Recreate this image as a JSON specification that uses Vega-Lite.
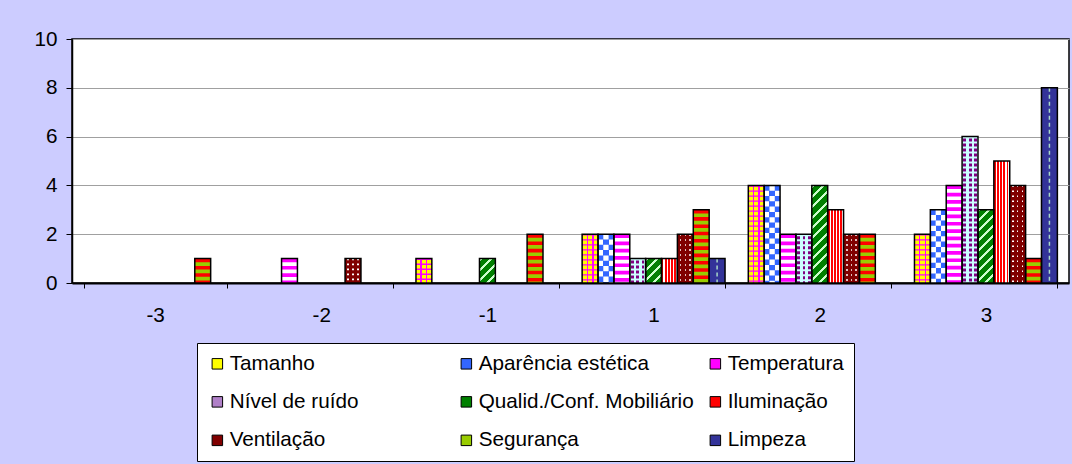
{
  "$schema": "https://vega.github.io/schema/vega-lite/v6.json",
  "width": 997,
  "height": 244,
  "autosize": "none",
  "padding": {"left": 72, "top": 39, "right": 3, "bottom": 181},
  "background": "#CCCCFF",
  "data": {"values": [
    {"cat": "-3", "series": "Segurança", "value": 1},
    {"cat": "-2", "series": "Temperatura", "value": 1},
    {"cat": "-2", "series": "Ventilação", "value": 1},
    {"cat": "-1", "series": "Tamanho", "value": 1},
    {"cat": "-1", "series": "Qualid./Conf. Mobiliário", "value": 1},
    {"cat": "-1", "series": "Segurança", "value": 2},
    {"cat": "1", "series": "Tamanho", "value": 2},
    {"cat": "1", "series": "Aparência estética", "value": 2},
    {"cat": "1", "series": "Temperatura", "value": 2},
    {"cat": "1", "series": "Nível de ruído", "value": 1},
    {"cat": "1", "series": "Qualid./Conf. Mobiliário", "value": 1},
    {"cat": "1", "series": "Iluminação", "value": 1},
    {"cat": "1", "series": "Ventilação", "value": 2},
    {"cat": "1", "series": "Segurança", "value": 3},
    {"cat": "1", "series": "Limpeza", "value": 1},
    {"cat": "2", "series": "Tamanho", "value": 4},
    {"cat": "2", "series": "Aparência estética", "value": 4},
    {"cat": "2", "series": "Temperatura", "value": 2},
    {"cat": "2", "series": "Nível de ruído", "value": 2},
    {"cat": "2", "series": "Qualid./Conf. Mobiliário", "value": 4},
    {"cat": "2", "series": "Iluminação", "value": 3},
    {"cat": "2", "series": "Ventilação", "value": 2},
    {"cat": "2", "series": "Segurança", "value": 2},
    {"cat": "3", "series": "Tamanho", "value": 2},
    {"cat": "3", "series": "Aparência estética", "value": 3},
    {"cat": "3", "series": "Temperatura", "value": 4},
    {"cat": "3", "series": "Nível de ruído", "value": 6},
    {"cat": "3", "series": "Qualid./Conf. Mobiliário", "value": 3},
    {"cat": "3", "series": "Iluminação", "value": 5},
    {"cat": "3", "series": "Ventilação", "value": 4},
    {"cat": "3", "series": "Segurança", "value": 1},
    {"cat": "3", "series": "Limpeza", "value": 8}
  ]},
  "encoding": {
    "x": {"field": "cat", "type": "nominal",
      "scale": {"domain": ["-3", "-2", "-1", "1", "2", "3"], "paddingInner": 0.14, "paddingOuter": 0.07},
      "axis": {"title": null, "tickBand": "extent", "labelAngle": 0, "domainColor": "#000000", "domainWidth": 2, "tickColor": "#000000", "tickSize": 5, "tickWidth": 1, "labelPadding": 17, "grid": false}},
    "xOffset": {"field": "series", "type": "nominal",
      "scale": {"domain": ["Tamanho", "Aparência estética", "Temperatura", "Nível de ruído", "Qualid./Conf. Mobiliário", "Iluminação", "Ventilação", "Segurança", "Limpeza"], "paddingInner": 0, "paddingOuter": 0}},
    "y": {"field": "value", "type": "quantitative",
      "scale": {"domain": [0, 10], "nice": false},
      "axis": {"title": null, "values": [0, 2, 4, 6, 8, 10], "grid": true, "gridColor": "#A0A0A0", "gridWidth": 1, "domainColor": "#000000", "domainWidth": 1.5, "tickColor": "#000000", "tickSize": 6, "tickWidth": 1, "labelPadding": 9}}
  },
  "layer": [
    {
      "mark": {"type": "bar", "strokeWidth": 0},
      "encoding": {
        "fill": {
          "condition": [
            {"test": "datum.series === 'Tamanho'", "value": {"gradient": "linear", "x1": 0, "y1": 0, "x2": 1, "y2": 0, "stops": [
              {"offset": 0, "color": "#FFFF00"}, {"offset": 0.28, "color": "#FFFF00"}, {"offset": 0.28, "color": "#FF00FF"}, {"offset": 0.36, "color": "#FF00FF"}, {"offset": 0.36, "color": "#FFFF00"}, {"offset": 0.64, "color": "#FFFF00"}, {"offset": 0.64, "color": "#FF00FF"}, {"offset": 0.72, "color": "#FF00FF"}, {"offset": 0.72, "color": "#FFFF00"}, {"offset": 1, "color": "#FFFF00"}]}},
            {"test": "datum.series === 'Aparência estética'", "value": {"gradient": "linear", "x1": 0, "y1": 0, "x2": 1, "y2": 0, "stops": [
              {"offset": 0, "color": "#FFFFFF"}, {"offset": 0.333, "color": "#FFFFFF"}, {"offset": 0.333, "color": "#3366FF"}, {"offset": 0.667, "color": "#3366FF"}, {"offset": 0.667, "color": "#FFFFFF"}, {"offset": 1, "color": "#FFFFFF"}]}},
            {"test": "datum.series === 'Temperatura'", "value": "#FFFFFF"},
            {"test": "datum.series === 'Nível de ruído'", "value": {"gradient": "linear", "x1": 0, "y1": 0, "x2": 1, "y2": 0, "stops": [
              {"offset": 0, "color": "#CCFFFF"}, {"offset": 0.08, "color": "#CCFFFF"}, {"offset": 0.08, "color": "#800080"}, {"offset": 0.27, "color": "#800080"}, {"offset": 0.27, "color": "#CCFFFF"}, {"offset": 0.42, "color": "#CCFFFF"}, {"offset": 0.42, "color": "#800080"}, {"offset": 0.6, "color": "#800080"}, {"offset": 0.6, "color": "#CCFFFF"}, {"offset": 0.74, "color": "#CCFFFF"}, {"offset": 0.74, "color": "#800080"}, {"offset": 0.92, "color": "#800080"}, {"offset": 0.92, "color": "#CCFFFF"}, {"offset": 1, "color": "#CCFFFF"}]}},
            {"test": "datum.series === 'Qualid./Conf. Mobiliário' && datum.value === 1", "value": {"gradient": "linear", "x1": 0, "y1": 0, "x2": 0.7539, "y2": 1.1599, "stops": [
              {"offset": 0, "color": "#CCFFCC"}, {"offset": 0.075, "color": "#CCFFCC"}, {"offset": 0.075, "color": "#008000"}, {"offset": 0.25, "color": "#008000"},
              {"offset": 0.25, "color": "#CCFFCC"}, {"offset": 0.325, "color": "#CCFFCC"}, {"offset": 0.325, "color": "#008000"}, {"offset": 0.5, "color": "#008000"},
              {"offset": 0.5, "color": "#CCFFCC"}, {"offset": 0.575, "color": "#CCFFCC"}, {"offset": 0.575, "color": "#008000"}, {"offset": 0.75, "color": "#008000"},
              {"offset": 0.75, "color": "#CCFFCC"}, {"offset": 0.825, "color": "#CCFFCC"}, {"offset": 0.825, "color": "#008000"}, {"offset": 1, "color": "#008000"}]}},
            {"test": "datum.series === 'Qualid./Conf. Mobiliário' && datum.value === 3", "value": {"gradient": "linear", "x1": 0, "y1": 0, "x2": 0.2518, "y2": 1.1621, "stops": [
              {"offset": 0, "color": "#CCFFCC"}, {"offset": 0.0333, "color": "#CCFFCC"}, {"offset": 0.0333, "color": "#008000"}, {"offset": 0.1111, "color": "#008000"},
              {"offset": 0.1111, "color": "#CCFFCC"}, {"offset": 0.1444, "color": "#CCFFCC"}, {"offset": 0.1444, "color": "#008000"}, {"offset": 0.2222, "color": "#008000"},
              {"offset": 0.2222, "color": "#CCFFCC"}, {"offset": 0.2556, "color": "#CCFFCC"}, {"offset": 0.2556, "color": "#008000"}, {"offset": 0.3333, "color": "#008000"},
              {"offset": 0.3333, "color": "#CCFFCC"}, {"offset": 0.3667, "color": "#CCFFCC"}, {"offset": 0.3667, "color": "#008000"}, {"offset": 0.4444, "color": "#008000"},
              {"offset": 0.4444, "color": "#CCFFCC"}, {"offset": 0.4778, "color": "#CCFFCC"}, {"offset": 0.4778, "color": "#008000"}, {"offset": 0.5556, "color": "#008000"},
              {"offset": 0.5556, "color": "#CCFFCC"}, {"offset": 0.5889, "color": "#CCFFCC"}, {"offset": 0.5889, "color": "#008000"}, {"offset": 0.6667, "color": "#008000"},
              {"offset": 0.6667, "color": "#CCFFCC"}, {"offset": 0.7, "color": "#CCFFCC"}, {"offset": 0.7, "color": "#008000"}, {"offset": 0.7778, "color": "#008000"},
              {"offset": 0.7778, "color": "#CCFFCC"}, {"offset": 0.8111, "color": "#CCFFCC"}, {"offset": 0.8111, "color": "#008000"}, {"offset": 0.8889, "color": "#008000"},
              {"offset": 0.8889, "color": "#CCFFCC"}, {"offset": 0.9222, "color": "#CCFFCC"}, {"offset": 0.9222, "color": "#008000"}, {"offset": 1, "color": "#008000"}]}},
            {"test": "datum.series === 'Qualid./Conf. Mobiliário' && datum.value === 4", "value": {"gradient": "linear", "x1": 0, "y1": 0, "x2": 0.18405, "y2": 1.1326, "stops": [
              {"offset": 0, "color": "#CCFFCC"}, {"offset": 0.0273, "color": "#CCFFCC"}, {"offset": 0.0273, "color": "#008000"}, {"offset": 0.0909, "color": "#008000"},
              {"offset": 0.0909, "color": "#CCFFCC"}, {"offset": 0.1182, "color": "#CCFFCC"}, {"offset": 0.1182, "color": "#008000"}, {"offset": 0.1818, "color": "#008000"},
              {"offset": 0.1818, "color": "#CCFFCC"}, {"offset": 0.2091, "color": "#CCFFCC"}, {"offset": 0.2091, "color": "#008000"}, {"offset": 0.2727, "color": "#008000"},
              {"offset": 0.2727, "color": "#CCFFCC"}, {"offset": 0.3, "color": "#CCFFCC"}, {"offset": 0.3, "color": "#008000"}, {"offset": 0.3636, "color": "#008000"},
              {"offset": 0.3636, "color": "#CCFFCC"}, {"offset": 0.3909, "color": "#CCFFCC"}, {"offset": 0.3909, "color": "#008000"}, {"offset": 0.4545, "color": "#008000"},
              {"offset": 0.4545, "color": "#CCFFCC"}, {"offset": 0.4818, "color": "#CCFFCC"}, {"offset": 0.4818, "color": "#008000"}, {"offset": 0.5455, "color": "#008000"},
              {"offset": 0.5455, "color": "#CCFFCC"}, {"offset": 0.5727, "color": "#CCFFCC"}, {"offset": 0.5727, "color": "#008000"}, {"offset": 0.6364, "color": "#008000"},
              {"offset": 0.6364, "color": "#CCFFCC"}, {"offset": 0.6636, "color": "#CCFFCC"}, {"offset": 0.6636, "color": "#008000"}, {"offset": 0.7273, "color": "#008000"},
              {"offset": 0.7273, "color": "#CCFFCC"}, {"offset": 0.7545, "color": "#CCFFCC"}, {"offset": 0.7545, "color": "#008000"}, {"offset": 0.8182, "color": "#008000"},
              {"offset": 0.8182, "color": "#CCFFCC"}, {"offset": 0.8455, "color": "#CCFFCC"}, {"offset": 0.8455, "color": "#008000"}, {"offset": 0.9091, "color": "#008000"},
              {"offset": 0.9091, "color": "#CCFFCC"}, {"offset": 0.9364, "color": "#CCFFCC"}, {"offset": 0.9364, "color": "#008000"}, {"offset": 1, "color": "#008000"}]}},
            {"test": "datum.series === 'Iluminação'", "value": {"gradient": "linear", "x1": 0, "y1": 0, "x2": 1, "y2": 0, "stops": [
              {"offset": 0, "color": "#FF0000"}, {"offset": 0.12, "color": "#FF0000"}, {"offset": 0.12, "color": "#FFFFFF"}, {"offset": 0.2, "color": "#FFFFFF"},
              {"offset": 0.2, "color": "#FF0000"}, {"offset": 0.32, "color": "#FF0000"}, {"offset": 0.32, "color": "#FFFFFF"}, {"offset": 0.4, "color": "#FFFFFF"},
              {"offset": 0.4, "color": "#FF0000"}, {"offset": 0.52, "color": "#FF0000"}, {"offset": 0.52, "color": "#FFFFFF"}, {"offset": 0.6, "color": "#FFFFFF"},
              {"offset": 0.6, "color": "#FF0000"}, {"offset": 0.72, "color": "#FF0000"}, {"offset": 0.72, "color": "#FFFFFF"}, {"offset": 0.8, "color": "#FFFFFF"},
              {"offset": 0.8, "color": "#FF0000"}, {"offset": 0.92, "color": "#FF0000"}, {"offset": 0.92, "color": "#FFFFFF"}, {"offset": 1, "color": "#FFFFFF"}]}},
            {"test": "datum.series === 'Ventilação'", "value": "#800000"},
            {"test": "datum.series === 'Segurança'", "value": "#99CC00"},
            {"test": "datum.series === 'Limpeza'", "value": "#333399"}
          ],
          "value": "#999999"
        }
      }
    },
    {
      "transform": [{"filter": "datum.series !== 'Qualid./Conf. Mobiliário' && datum.series !== 'Iluminação'"}],
      "mark": {"type": "rule", "strokeCap": "butt"},
      "encoding": {
        "y2": {"datum": 0},
        "stroke": {
          "condition": [
            {"test": "datum.series === 'Tamanho'", "value": "#FF00FF"},
            {"test": "datum.series === 'Aparência estética'", "value": "#3366FF"},
            {"test": "datum.series === 'Temperatura'", "value": "#FF00FF"},
            {"test": "datum.series === 'Nível de ruído'", "value": "#CCFFFF"},
            {"test": "datum.series === 'Ventilação'", "value": "#FFFFFF"},
            {"test": "datum.series === 'Segurança'", "value": "#FF0000"},
            {"test": "datum.series === 'Limpeza'", "value": "#A8D8C8"}
          ],
          "value": "transparent"
        },
        "strokeWidth": {"condition": [{"test": "datum.series === 'Limpeza'", "value": 1.5}], "value": 15.9},
        "strokeDash": {
          "condition": [
            {"test": "datum.series === 'Tamanho'", "value": [1.3, 3.7]},
            {"test": "datum.series === 'Aparência estética'", "value": [5.3, 5.3]},
            {"test": "datum.series === 'Temperatura'", "value": [3.7, 3.6]},
            {"test": "datum.series === 'Nível de ruído'", "value": [2, 3]},
            {"test": "datum.series === 'Ventilação'", "value": [1.6, 3.4]},
            {"test": "datum.series === 'Segurança'", "value": [3.6, 3.7]},
            {"test": "datum.series === 'Limpeza'", "value": [4, 3]}
          ],
          "value": [1, 0]
        }
      }
    },
    {
      "transform": [{"filter": "datum.series === 'Aparência estética'"}],
      "mark": {"type": "rule", "strokeCap": "butt", "stroke": "#FFFFFF", "strokeWidth": 5.3, "strokeDash": [5.3, 5.3]},
      "encoding": {"y2": {"datum": 0}}
    },
    {
      "mark": {"type": "bar", "stroke": "#000000", "strokeWidth": 1.5},
      "encoding": {
        "fill": {
          "condition": [
            {"test": "datum.series === 'Ventilação'", "value": {"gradient": "linear", "x1": 0, "y1": 0, "x2": 1, "y2": 0, "stops": [
              {"offset": 0, "color": "#800000"}, {"offset": 0.15, "color": "#800000"}, {"offset": 0.15, "color": "rgba(128,0,0,0)"}, {"offset": 0.25, "color": "rgba(128,0,0,0)"},
              {"offset": 0.25, "color": "#800000"}, {"offset": 0.45, "color": "#800000"}, {"offset": 0.45, "color": "rgba(128,0,0,0)"}, {"offset": 0.55, "color": "rgba(128,0,0,0)"},
              {"offset": 0.55, "color": "#800000"}, {"offset": 0.75, "color": "#800000"}, {"offset": 0.75, "color": "rgba(128,0,0,0)"}, {"offset": 0.85, "color": "rgba(128,0,0,0)"},
              {"offset": 0.85, "color": "#800000"}, {"offset": 1, "color": "#800000"}]}}
          ],
          "value": "transparent"
        }
      }
    },
    {
      "transform": [{"filter": "false"}],
      "mark": {"type": "bar"},
      "encoding": {
        "fill": {"field": "series", "type": "nominal",
          "scale": {"domain": ["Tamanho", "Aparência estética", "Temperatura", "Nível de ruído", "Qualid./Conf. Mobiliário", "Iluminação", "Ventilação", "Segurança", "Limpeza"],
                    "range": ["#FFFF00", "#3366FF", "#FF00FF", "#B080C8", "#008000", "#FF0000", "#800000", "#99CC00", "#333399"]},
          "legend": {"title": null, "orient": "none", "legendX": 125, "legendY": 304, "direction": "horizontal", "columns": 3, "gridAlign": "all", "columnPadding": 11, "rowPadding": 16.5, "padding": 10,
                     "fillColor": "#FFFFFF", "strokeColor": "#000000", "symbolType": "square", "symbolSize": 110, "symbolStrokeColor": "#000000", "symbolStrokeWidth": 1, "symbolOpacity": 1,
                     "labelFont": "Liberation Sans", "labelFontSize": 20.7, "labelColor": "#000000", "labelLimit": 400, "labelOffset": 2}}
      }
    }
  ],
  "config": {
    "view": {"fill": "#FFFFFF", "stroke": "#000000", "strokeWidth": 1.5},
    "axis": {"labelFont": "Liberation Sans", "labelFontSize": 20.7, "labelColor": "#000000"},
    "legend": {"labelFont": "Liberation Sans"}
  }
}
